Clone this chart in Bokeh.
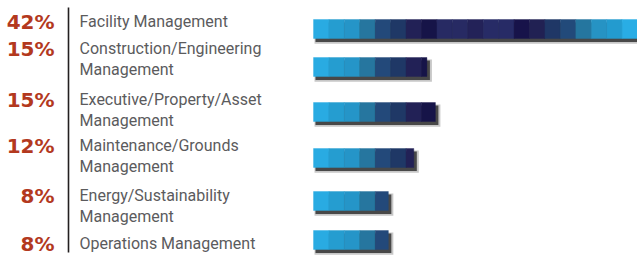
from bokeh.plotting import figure
from bokeh.models import Range1d, ColumnDataSource
from bokeh.core.properties import value
from bokeh.embed import file_html
from bokeh.resources import INLINE

# ---- data ----
categories = [
    "Facility Management",
    "Construction/Engineering\nManagement",
    "Executive/Property/Asset\nManagement",
    "Maintenance/Grounds\nManagement",
    "Energy/Sustainability\nManagement",
    "Operations Management",
]
pct_values = [42, 15, 15, 12, 8, 8]
# bar lengths as drawn in the picture (percent units)
bar_values = [42, 14.7, 15.8, 13.0, 9.7, 9.7]

# ---- layout / style ----
W, H = 637, 257
X0, X1 = -40.58, 42.0
PX = W / (X1 - X0)          # pixels per percent unit


def px2x(px):
    return X0 + px / PX


BASE_FIX = -7                                   # svg alphabetic-baseline offset
row_baseline = [28, 55, 106, 152, 202, 250]     # text baseline (px from top)
bar_center = [28.5, 66.5, 111.5, 157.5, 200.5, 239.5]
BAR_H = 19.0
LINE_H = 20.5
SEG = 2.0
palette = ["#29ABE2", "#259DD0", "#2595C8", "#26769F", "#23497A", "#1F3866",
           "#222156", "#161448", "#272A63", "#272A63", "#232258", "#272B66",
           "#272B66", "#17134A", "#212153", "#1F3766", "#224A7A", "#25769F",
           "#2693C4", "#239BCF", "#29ADE5"]
PCT_COLOR = "#B3391E"
LABEL_COLOR = "#5B5B5D"

p = figure(width=W, height=H, output_backend="svg", toolbar_location=None,
           x_range=Range1d(X0, X1), y_range=Range1d(H, 0), min_border=0)
p.axis.visible = False
p.grid.visible = False
p.outline_line_color = None
p.background_fill_color = "white"
p.border_fill_color = "white"

# shadows
sh = dict(l=[], r=[], t=[], b=[])
halo = dict(l=[], r=[], t=[], b=[])
for v, yc in zip(bar_values, bar_center):
    sh["l"].append(2 / PX); sh["r"].append(v + 3 / PX)
    sh["t"].append(yc - BAR_H / 2 + 3); sh["b"].append(yc + BAR_H / 2 + 3.5)
    halo["l"].append(1 / PX); halo["r"].append(v + 5 / PX)
    halo["t"].append(yc - BAR_H / 2 + 2); halo["b"].append(yc + BAR_H / 2 + 5.2)
p.quad(left=halo["l"], right=halo["r"], top=halo["t"], bottom=halo["b"],
       fill_color="#444444", fill_alpha=0.3, line_color=None)
p.quad(left=sh["l"], right=sh["r"], top=sh["t"], bottom=sh["b"],
       fill_color="#3A3A3A", fill_alpha=0.9, line_color=None)

# gradient bars built from segments
segs = dict(left=[], right=[], top=[], bottom=[], color=[])
for v, yc in zip(bar_values, bar_center):
    k = 0
    while k * SEG < v - 1e-9:
        segs["left"].append(k * SEG)
        segs["right"].append(min((k + 1) * SEG, v))
        segs["top"].append(yc - BAR_H / 2)
        segs["bottom"].append(yc + BAR_H / 2)
        segs["color"].append(palette[k % len(palette)])
        k += 1
p.quad(left="left", right="right", top="top", bottom="bottom",
       fill_color="color", line_color="color", line_width=0.4,
       source=ColumnDataSource(segs))

# divider line
p.segment(x0=[px2x(68)], y0=[7], x1=[px2x(68)], y1=[252],
          line_color="#231F20", line_width=1.6)

# percentages
p.text(x=[px2x(54)] * len(pct_values), y=[b + BASE_FIX for b in row_baseline],
       text=[f"{v}%" for v in pct_values],
       text_font=value("DejaVu Sans"), text_font_style="bold",
       text_font_size="20px", text_color=PCT_COLOR,
       text_align="right", text_baseline="alphabetic")

# category labels (each line separately)
lx, ly, lt = [], [], []
for cat, base in zip(categories, row_baseline):
    for j, line in enumerate(cat.split("\n")):
        lx.append(px2x(79)); ly.append(base + BASE_FIX + j * LINE_H); lt.append(line)
p.text(x=lx, y=ly, text=lt, text_font=value("Roboto"),
       text_font_size="16px", text_color=LABEL_COLOR,
       text_align="left", text_baseline="alphabetic")

open("out.html", "w").write(file_html(p, INLINE))
